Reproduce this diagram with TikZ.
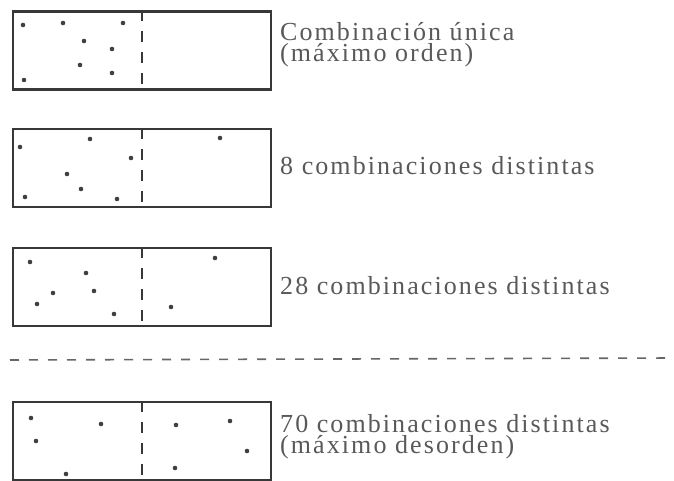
\documentclass[tikz,border=0pt]{standalone}
\usepackage{fontspec}
\setmainfont{Liberation Serif}[LetterSpace=8]
\begin{document}
\begin{tikzpicture}[x=1pt,y=-1pt,
  box/.style={draw=boxgray,line width=2.4pt,minimum width=258pt,minimum height=78pt,inner sep=0pt,anchor=north west},
  divider/.style={draw=boxgray,line width=2pt,dash pattern=on 11pt off 10pt},
  dot/.style={fill=dotgray},
  lbl/.style={text=txtgray,inner sep=0pt,anchor=base west,align=left,font=\fontsize{26}{21}\selectfont},
  sep/.style={draw=sepgray,line width=1.6pt,dash pattern=on 9pt off 10pt}]
\definecolor{boxgray}{gray}{0.22}
\definecolor{dotgray}{gray}{0.25}
\definecolor{txtgray}{gray}{0.35}
\definecolor{sepgray}{gray}{0.4}
\useasboundingbox (0,0) rectangle (674,481);
% boxes
\node[box] (b1) at (12,10.5) {};
\node[box] (b2) at (12,128) {};
\node[box] (b3) at (12,247) {};
\node[box] (b4) at (12,401) {};
\foreach \b in {b1,b2,b3,b4}{
  \draw[divider] (\b.north) -- (\b.south);
}
% dots box 1
\foreach \p in {(23,25),(63,23),(123,23),(84,41),(112,49),(80,65),(112,73),(24,80)}
  \fill[dot] \p circle (2.3pt);
% dots box 2
\foreach \p in {(20,147),(90,139),(131,158),(67,174),(81,189),(25,197),(117,199),(220,138)}
  \fill[dot] \p circle (2.3pt);
% dots box 3
\foreach \p in {(30,262),(86,273),(94,291),(53,293),(37,304),(114,314),(215,258),(171,307)}
  \fill[dot] \p circle (2.3pt);
% dots box 4
\foreach \p in {(31,418),(101,424),(36,441),(66,474),(176,425),(230,421),(247,451),(175,468)}
  \fill[dot] \p circle (2.3pt);
% labels
\node[lbl] (t1) at (280,62) {Combinación única\\(máximo orden)};
\node[lbl] (t2) at (280,175) {8 combinaciones distintas};
\node[lbl] (t3) at (280,294) {28 combinaciones distintas};
\node[lbl] (t4) at (280,453) {70 combinaciones distintas\\(máximo desorden)};
% separator
\coordinate (s1) at (10,360);
\coordinate (s2) at (674,358);
\draw[sep] (s1) -- (s2);
\end{tikzpicture}
\end{document}
